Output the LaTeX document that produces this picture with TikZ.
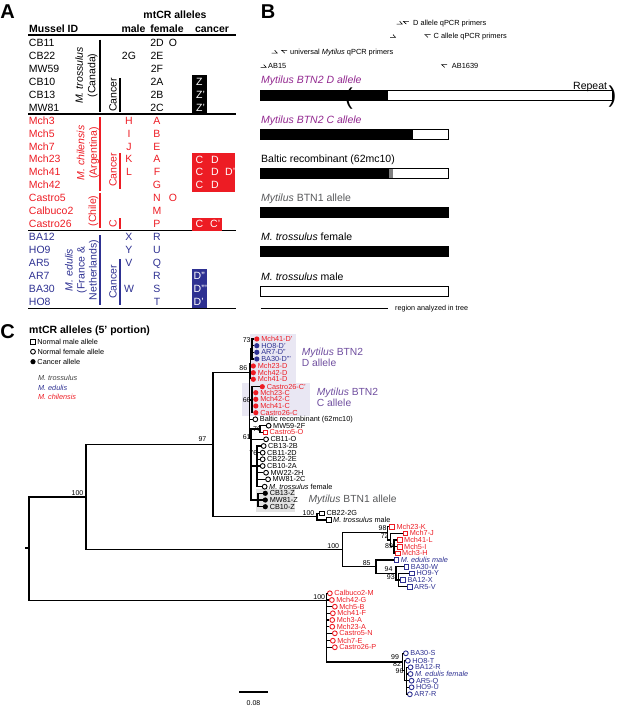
\documentclass[tikz,border=0pt]{standalone}
\usepackage{fontspec}
\setmainfont{Liberation Sans}
\usetikzlibrary{matrix,positioning}

\definecolor{chred}{HTML}{ED1C24}
\definecolor{edblue}{HTML}{2E3192}
\definecolor{btnpurple}{HTML}{92278F}
\definecolor{treepurple}{HTML}{6F4E9F}
\definecolor{lavbox}{HTML}{E9E7F3}
\definecolor{greybox}{HTML}{E3E3E3}
\definecolor{btngrey}{HTML}{58595B}
\definecolor{darkgrey}{HTML}{404040}

\begin{document}
\begin{tikzpicture}[x=1pt, y=-1pt,
font=\fontsize{10.5}{12}\selectfont,
capc/.style={inner sep=0pt, text height=7.5pt, text depth=0pt},
hdr/.style={capc, font=\fontsize{10.5}{12}\selectfont\bfseries},
panel/.style={inner sep=0pt, font=\fontsize{20}{20}\selectfont\bfseries},
tbl/.style={
    matrix of nodes,
    anchor=north west,
    inner sep=0pt, outer sep=0pt,
    nodes={capc, minimum height=12.95pt},
    column sep=0pt,
    row sep=0pt,
    nodes in empty cells,
    column 1/.style={nodes={text width=84pt, align=left}},
    column 2/.style={nodes={text width=32pt, align=center}},
    column 3/.style={nodes={text width=24pt, align=center}},
    column 4/.style={nodes={text width=8pt, align=center}},
},
rule/.style={line width=1.2pt},
bar/.style={line width=1.8pt},
rot/.style={rotate=90, align=center, inner sep=0pt, font=\fontsize{10.5}{12.5}\selectfont},
canc/.style={capc, anchor=west, text=white},
blab/.style={capc, anchor=west},
small/.style={inner sep=0pt, anchor=west, font=\fontsize{7.4}{9}\selectfont, text height=5.3pt, text depth=0pt},
primer/.style={line width=0.6pt},
fwdp/.pic={\draw[primer] (0,0) -- (5.5,0) -- (3,-2.8);},
revp/.pic={\draw[primer] (3,2.8) -- (0,0) -- (5.5,0);},
allele/.style={draw=black, line width=0.8pt},
paren/.style={inner sep=0pt, font=\fontsize{23}{23}\selectfont},
br/.style={line width=1.2pt},
mal/.style={draw=#1, rectangle, fill=white, minimum size=4.6pt, inner sep=0pt, line width=0.9pt},
fem/.style={draw=#1, circle, fill=white, minimum size=4.8pt, inner sep=0pt, line width=0.9pt},
can/.style={fill=#1, circle, minimum size=5.2pt, inner sep=0pt},
tl/.style={inner sep=0.5pt, font=\fontsize{7.3}{8}\selectfont, text height=5.2pt, text depth=0pt},
sup/.style={inner sep=0pt, font=\fontsize{7}{8}\selectfont, text height=5pt, text depth=0pt},
cladelab/.style={anchor=west, align=left, inner sep=0pt, font=\fontsize{10.3}{11.6}\selectfont},
label distance=1pt
]
\useasboundingbox (0,0) rectangle (617,721);

% A: mtCR alleles table
\node[panel] (panelA) at (7.5,12) {A};
\node[hdr] (hdrTitle) at (175,15) {mtCR alleles};
\node[hdr, anchor=west] (hdrID) at (29,29) {Mussel ID};
\node[hdr] (hdrMale) at (133.5,29) {male};
\node[hdr] (hdrFem) at (167,29) {female};
\node[hdr] (hdrCan) at (212,29) {cancer};
\draw[rule] (28,35) -- (236,35);

\matrix[tbl] (tro) at (29,36.2) {
CB11 &    & 2D & O \\
CB22 & 2G & 2E &   \\
MW59 &    & 2F &   \\
CB10 &    & 2A &   \\
CB13 &    & 2B &   \\
MW81 &    & 2C &   \\
};
\matrix[tbl, below=0pt of tro, nodes={text=chred}] (chi) {
Mch3     & H & A &   \\
Mch5     & I & B &   \\
Mch7     & J & E &   \\
Mch23    & K & A &   \\
Mch41    & L & F &   \\
Mch42    &   & G &   \\
Castro5  &   & N & O \\
Calbuco2 &   & M &   \\
Castro26 &   & P &   \\
};
\matrix[tbl, below=0pt of chi, nodes={text=edblue}] (edu) {
BA12 & X & R & \\
HO9  & Y & U & \\
AR5  & V & Q & \\
AR7  &   & R & \\
BA30 & W & S & \\
HO8  &   & T & \\
};
\draw[rule] ([xshift=-1pt]tro.south west) -- ++(208,0);
\draw[rule] ([xshift=-1pt]chi.south west) -- ++(208,0);
\draw[rule] ([xshift=-1pt]edu.south west) -- ++(208,0);

\node[rot] (spTro) at (86.5,75.5) {\textit{M. trossulus}\\(Canada)};
\draw[bar] (100,39.5) -- (100,112);
\node[rot] (canTro) at (113,95) {Cancer};
\draw[bar] (120,78) -- (120,112);

\node[rot, text=chred] (spChi) at (88,153) {\textit{M. chilensis}\\(Argentina)};
\draw[bar, chred] (100,117) -- (100,190.5);
\node[rot, text=chred] (spChile) at (93.5,211) {(Chile)};
\draw[bar, chred] (100,193.3) -- (100,228.3);
\node[rot, text=chred] (canChi) at (113,170) {Cancer};
\draw[bar, chred] (120,153.3) -- (120,189);
\node[rot, text=chred] (canChiC) at (113,224) {C};
\draw[line width=2.6pt, chred] (120,218.3) -- (120,229.3);

\node[rot, text=edblue, font=\fontsize{10.5}{12}\selectfont] (spEd) at (82,270) {\textit{M. edulis}\\(France \&\\Netherlands)};
\draw[bar, edblue] (100,235) -- (100,305);
\node[rot, text=edblue] (canEd) at (113,282) {Cancer};
\draw[bar, edblue] (120,259) -- (120,305);

\fill (192,75.1) rectangle (207,113.9);
\node[canc] (zA) at (196,81.55) {Z};
\node[canc] (zB) at (196,94.5) {Z'};
\node[canc] (zC) at (196,107.45) {Z'};
\fill[chred] (192,152.8) rectangle (235,191.6);
\node[canc] (cA) at (195.5,159.25) {C};
\node[canc] (dA) at (211,159.25) {D};
\node[canc] (cB) at (195.5,172.2) {C};
\node[canc] (dB) at (211,172.2) {D};
\node[canc] (dBp) at (225,172.2) {D'};
\node[canc] (cC) at (195.5,185.15) {C};
\node[canc] (dC) at (211,185.15) {D};
\fill[chred] (192,217.5) rectangle (222,230.5);
\node[canc] (cD) at (195.5,224) {C};
\node[canc] (cDp) at (210,224) {C'};
\fill[edblue] (192,269.3) rectangle (207,308.2);
\node[canc] (dE) at (193.5,275.8) {D''};
\node[canc] (dF) at (193.5,288.75) {D'''};
\node[canc] (dG) at (193.5,301.7) {D'};

% B: allele maps
\node[panel] (panelB) at (268,12) {B};
\pic at (396.7,24.1) {fwdp};
\pic at (403.3,21.3) {revp};
\node[small] (prD) at (413,22.7) {D allele qPCR primers};
\pic at (390,37.4) {fwdp};
\pic at (425,34.6) {revp};
\node[small] (prC) at (433.5,36) {C allele qPCR primers};
\pic at (271.7,53.1) {fwdp};
\pic at (281.7,50.3) {revp};
\node[small] (prU) at (290,51.7) {universal \textit{Mytilus} qPCR primers};
\pic at (260.7,67.4) {fwdp};
\node[small] (prAB15) at (268,66) {AB15};
\pic at (441.7,64.6) {revp};
\node[small] (prAB1639) at (451.7,66) {AB1639};

\node[blab, text=btnpurple] (alD) at (261,80) {\textit{Mytilus BTN2 D allele}};
\fill (260.7,90.7) rectangle (388.3,100.7);
\draw[allele] (260.7,90.7) rectangle (612.7,100.7);
\node[paren] (parL) at (349,98.5) {(};
\node[paren] (parR) at (612.5,97) {)};
\node[blab] (rep) at (573,86) {Repeat};

\node[blab, text=btnpurple] (alC) at (261,119.3) {\textit{Mytilus BTN2 C allele}};
\fill (260.7,129.3) rectangle (413.3,139.3);
\draw[allele] (260.7,129.3) rectangle (448.3,139.3);

\node[blab] (alBal) at (261,158.3) {Baltic recombinant (62mc10)};
\fill (260.7,168.3) rectangle (389.3,178.3);
\fill[gray] (389.3,168.3) rectangle (393.3,178.3);
\draw[allele] (260.7,168.3) rectangle (448.3,178.3);

\node[blab, text=btngrey] (alBTN1) at (261,197.3) {\textit{Mytilus} BTN1 allele};
\filldraw[allele, fill=black] (260.7,207.3) rectangle (448.3,217.3);

\node[blab] (alTf) at (261,236.7) {\textit{M. trossulus} female};
\filldraw[allele, fill=black] (260.7,246) rectangle (448.3,256);

\node[blab] (alTm) at (261,276.7) {\textit{M. trossulus} male};
\draw[allele] (260.7,286.7) rectangle (448.3,296.7);

\draw[line width=1.3pt] (260.7,308.3) -- (388.3,308.3);
\node[small, font=\fontsize{7.2}{9}\selectfont] (regTxt) at (395,308.3) {region analyzed in tree};

% C: tree
\node[panel] (panelC) at (7.5,331.7) {C};
\node[hdr, anchor=west] (treeTitle) at (29,330) {mtCR alleles (5' portion)};
\node[mal=black, label={[tl]right:Normal male allele}] (legM) at (33,341.7) {};
\node[fem=black, label={[tl]right:Normal female allele}] (legF) at (33,351.7) {};
\node[can=black, label={[tl]right:Cancer allele}] (legC) at (33,361.7) {};
\node[tl, anchor=west, text=darkgrey] (legTro) at (37.3,378.3) {\textit{M. trossulus}};
\node[tl, anchor=west, text=edblue] (legEd) at (37.3,387.7) {\textit{M. edulis}};
\node[tl, anchor=west, text=chred] (legChi) at (37.3,396.7) {\textit{M. chilensis}};

\fill[lavbox] (250,333.5) rectangle (296,383);
\fill[lavbox] (242,383) rectangle (310,415.5);
\fill[greybox] (256,489) rectangle (295,512.3);
\node[cladelab, text=treepurple] (labD) at (301.7,357.5) {\textit{Mytilus} BTN2\\D allele};
\node[cladelab, text=treepurple] (labC) at (316.7,397.5) {\textit{Mytilus} BTN2\\C allele};
\node[capc, anchor=west, text=btngrey, font=\fontsize{10.3}{12}\selectfont] (labBTN1) at (308.3,499) {\textit{Mytilus} BTN1 allele};

\coordinate (r) at (29,548);
\coordinate (rstub) at (25,548);
\coordinate (n100a) at (86,497);
\coordinate (n97) at (213,444.7);
\coordinate (nR) at (249.5,372.3);
\coordinate (nD) at (250.5,364);
\coordinate (nDs) at (252,349);
\coordinate (nC) at (252,400);
\coordinate (nT) at (251,438.3);
\coordinate (n76a) at (260,429);
\coordinate (n76b) at (257,466);
\coordinate (nZ) at (258,500);
\coordinate (nTm) at (317,516.7);
\coordinate (nMale) at (342.7,549.7);
\coordinate (nMchi) at (387.5,532.7);
\coordinate (n72) at (390.5,540);
\coordinate (n89) at (394,546.7);
\coordinate (nEm) at (376,566.7);
\coordinate (n94) at (396,573.3);
\coordinate (n93) at (398.5,580);
\coordinate (nChf) at (326.5,600.7);
\coordinate (nEf) at (402.5,662);
\coordinate (n82) at (404.5,670.7);
\coordinate (n96) at (406.5,680.8);

\draw[br] (r) -- (rstub);
\foreach \pa/\ch in {r/n100a, r/nChf, n100a/n97, n100a/nMale, n97/nR, n97/nTm,
    nR/nD, nR/nC, nR/nT, nD/nDs, nT/n76a, nT/n76b, nT/nZ,
    nMale/nMchi, nMale/nEm, nMchi/n72, n72/n89, nEm/n94, n94/n93,
    nChf/nEf, nEf/n82, n82/n96}
  \draw[br] (\pa) |- (\ch);

\foreach \nm/\pa/\xx/\yy/\sh/\co/\lb in {
  tD1/nDs/254/339/can/chred/Mch41-D',
  tD2/nDs/254/345.7/can/edblue/HO8-D',
  tD3/nDs/254/352.3/can/edblue/AR7-D'',
  tD4/nDs/254/359/can/edblue/BA30-D''',
  tD5/nD/250.5/366/can/chred/Mch23-D,
  tD6/nD/250.5/372.7/can/chred/Mch42-D,
  tD7/nD/250.5/379.3/can/chred/Mch41-D,
  tC1/nC/259.5/386.7/can/chred/Castro26-C',
  tC2/nC/253/392.7/can/chred/Mch23-C,
  tC3/nC/253/399.3/can/chred/Mch42-C,
  tC4/nC/253/406/can/chred/Mch41-C,
  tC5/nC/253/412.7/can/chred/Castro26-C,
  tBal/nR/252.5/419.3/fem/black/Baltic recombinant (62mc10),
  t59F/n76a/265.8/425.7/fem/black/MW59-2F,
  t5O/n76a/262.5/432.3/mal/chred/Castro5-O,
  t11O/nT/263.2/439.3/fem/black/CB11-O,
  t13B/n76b/260.8/446/fem/black/CB13-2B,
  t11D/n76b/259.8/452.7/fem/black/CB11-2D,
  t22E/n76b/259.8/459.3/fem/black/CB22-2E,
  t10A/n76b/259.8/466/fem/black/CB10-2A,
  t22H/n76b/263.2/472.7/fem/black/MW22-2H,
  t81C/n76b/265.2/479.3/fem/black/MW81-2C,
  tTf/n76b/261.8/486.7/fem/black/{\textit{M. trossulus} female},
  tZ1/nZ/262.5/493.3/can/black/CB13-Z,
  tZ2/nZ/262.5/500/can/black/MW81-Z,
  tZ3/nZ/262.5/506.7/can/black/CB10-Z,
  t22G/nTm/319.4/513.3/mal/black/CB22-2G,
  tTm/nTm/326/520/mal/black/{\textit{M. trossulus} male},
  tK/nMchi/389.4/526.7/mal/chred/Mch23-K,
  tJ/n72/402.7/533.3/mal/chred/Mch7-J,
  tL/n89/397/540/mal/chred/Mch41-L,
  tI/n89/397/546.7/mal/chred/Mch5-I,
  tH/n89/395/553.3/mal/chred/Mch3-H,
  tEm/nEm/393.7/560/mal/edblue/{\textit{M. edulis male}},
  tW/n94/403.7/566.7/mal/edblue/BA30-W,
  tY/n93/409.4/573.3/mal/edblue/HO9-Y,
  tX/n93/400.4/580/mal/edblue/BA12-X,
  tV/n93/407/586.7/mal/edblue/AR5-V,
  tM/nChf/327/593.3/fem/chred/Calbuco2-M,
  tG/nChf/329/600/fem/chred/Mch42-G,
  tB/nChf/332/606.7/fem/chred/Mch5-B,
  tF/nChf/330/613.3/fem/chred/Mch41-F,
  tA1/nChf/329.4/620/fem/chred/Mch3-A,
  tA2/nChf/329.4/626.7/fem/chred/Mch23-A,
  tN/nChf/332/633.3/fem/chred/Castro5-N,
  tE/nChf/330/640.7/fem/chred/Mch7-E,
  tP/nChf/332/647.3/fem/chred/Castro26-P,
  tS/nEf/403/653.3/fem/edblue/BA30-S,
  tT/n82/405/660.7/fem/edblue/HO8-T,
  tR1/n96/407.7/667.3/fem/edblue/BA12-R,
  tEf/n96/407.7/674/fem/edblue/{\textit{M. edulis female}},
  tQ/n96/408.7/680.7/fem/edblue/AR5-Q,
  tU/n96/408.7/687.3/fem/edblue/HO9-U,
  tR2/n96/407/694.3/fem/edblue/AR7-R}
{
  \node[\sh=\co, anchor=west, label={[tl, text=\co]right:\lb}] (\nm) at (\xx,\yy) {};
  \draw[br] (\pa) |- (\nm.west);
}

\foreach \nm/\xx/\yy/\v in {s100a/77.5/492.5/100, s97/202.5/439.2/97, s86/243.3/367.7/86,
    s73/246.7/340/73, s66/246.7/400/66, s61/246.7/436.7/61, s76a/257/428.5/76,
    s76b/253.3/452.7/76, s100b/308.5/512.5/100, s100c/333.3/545.8/100,
    s98/382.5/528.3/98, s72/384.7/536.3/72, s89/389/546.3/89, s85/366.7/562.7/85,
    s94/388.5/569.3/94, s93/390.8/576.7/93, s100d/319.2/596.7/100,
    s99/395/656.8/99, s82/397/663.5/82, s96/399.5/670.8/96}
  \node[sup] (\nm) at (\xx,\yy) {\v};

\coordinate (sbL) at (239,692);
\coordinate (sbR) at (268,692);
\draw[br] (sbL) -- (sbR);
\node[sup] (sbTxt) at (253.5,703) {0.08};
%
\end{tikzpicture}
\end{document}
